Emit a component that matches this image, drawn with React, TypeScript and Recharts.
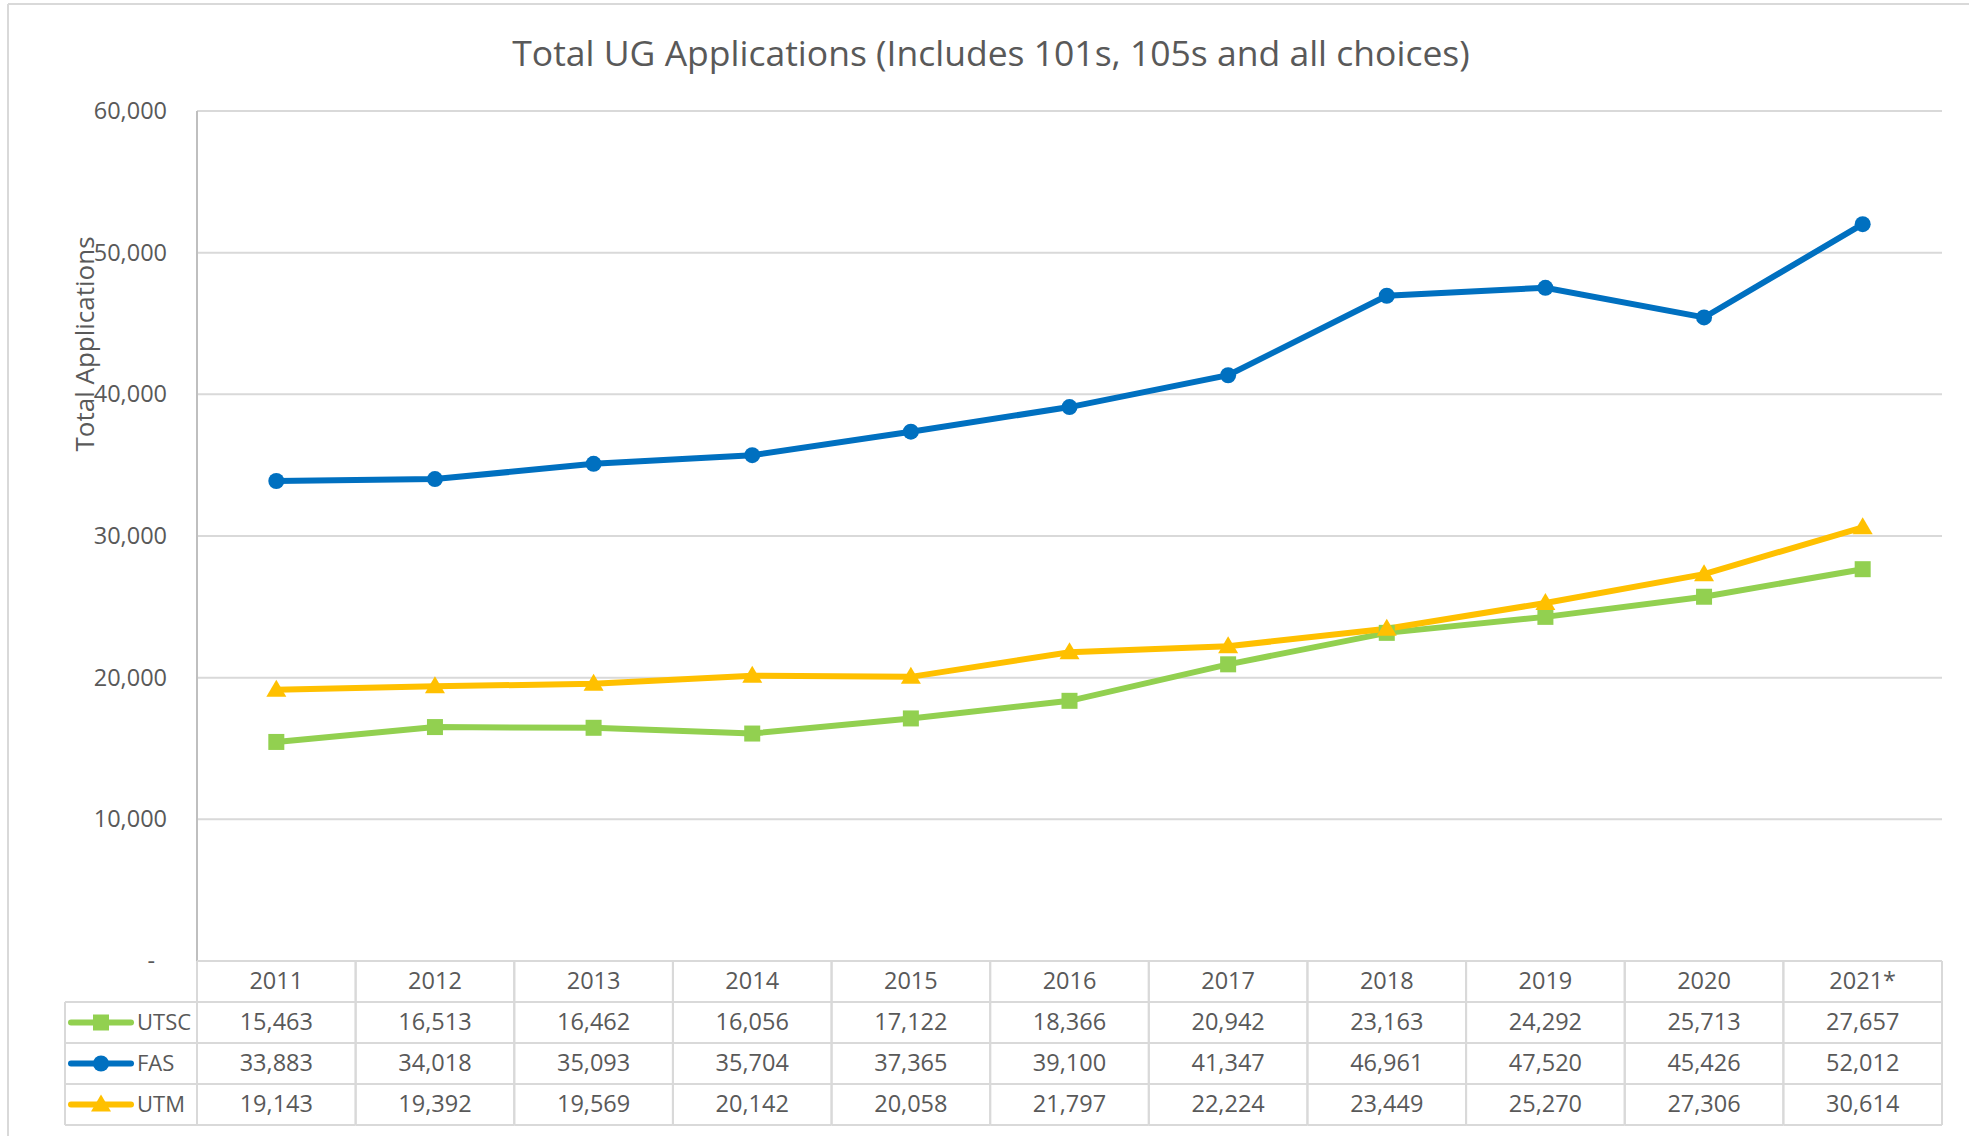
import React from 'react';
import { LineChart, Line, XAxis, YAxis, CartesianGrid, Customized } from 'recharts';

const years = ['2011', '2012', '2013', '2014', '2015', '2016', '2017', '2018', '2019', '2020', '2021*'];
const utsc = [15463, 16513, 16462, 16056, 17122, 18366, 20942, 23163, 24292, 25713, 27657];
const fas = [33883, 34018, 35093, 35704, 37365, 39100, 41347, 46961, 47520, 45426, 52012];
const utm = [19143, 19392, 19569, 20142, 20058, 21797, 22224, 23449, 25270, 27306, 30614];
const yTicks = [0, 10000, 20000, 30000, 40000, 50000, 60000];

const seriesNames = ['UTSC', 'FAS', 'UTM'];
const seriesValues = [utsc, fas, utm];
const seriesColors = ['#92D050', '#0070C0', '#FFC000'];
const seriesShapes = ['square', 'circle', 'triangle'];

const titleText = 'Total UG Applications (Includes 101s, 105s and all choices)';
const yAxisTitle = 'Total Applications';

const data = years.map((y, i) => ({ year: y, UTSC: utsc[i], FAS: fas[i], UTM: utm[i] }));

const W = 1969;
const H = 1136;
const M = { top: 111, right: 27, bottom: 10, left: 137 };
const Y_W = 60;
const X_H = 165;
const PLOT_W = W - M.left - Y_W - M.right;
const BAND = PLOT_W / years.length;
const ROW = 41;
const LEGEND_W = 132;
const FONT = '"Open Sans", "Noto Sans", sans-serif';
const TXT = '#595959';
const GRID = '#D9D9D9';
const FS = 23.5;

const fmt = (v: number) => v.toLocaleString('en-US');

const Marker = ({ shape, cx, cy, color }: { shape: string; cx: number; cy: number; color: string }) => {
  if (shape === 'square') return <rect x={cx - 8} y={cy - 8} width={16} height={16} fill={color} />;
  if (shape === 'circle') return <circle cx={cx} cy={cy} r={8} fill={color} />;
  return <polygon points={`${cx},${cy - 10} ${cx + 10},${cy + 7} ${cx - 10},${cy + 7}`} fill={color} />;
};

const makeDot = (s: number) => (props: any) => {
  const { cx, cy, index } = props;
  if (cx == null || cy == null) return <g key={`d${s}-${index}`} />;
  return (
    <g key={`d${s}-${index}`}>
      <Marker shape={seriesShapes[s]} cx={cx} cy={cy} color={seriesColors[s]} />
    </g>
  );
};

const TableTick = (props: any) => {
  const { x, y, payload } = props;
  const i: number = payload.index;
  const left = x - BAND / 2;
  const right = x + BAND / 2;
  const items: React.ReactNode[] = [];
  const bottom = y + ROW * 4;
  items.push(<line key="vl" x1={left} y1={y} x2={left} y2={bottom} stroke={GRID} strokeWidth={2} />);
  items.push(<line key="vr" x1={right} y1={y} x2={right} y2={bottom} stroke={GRID} strokeWidth={2} />);
  for (let r = 0; r <= 4; r++) {
    items.push(<line key={`h${r}`} x1={left} y1={y + ROW * r} x2={right} y2={y + ROW * r} stroke={GRID} strokeWidth={2} />);
  }
  items.push(
    <text key="yr" x={x} y={y + ROW / 2 - 2} textAnchor="middle" dominantBaseline="central" fill={TXT} fontFamily={FONT} fontSize={FS}>
      {payload.value}
    </text>
  );
  seriesValues.forEach((vals, s) => {
    items.push(
      <text key={`v${s}`} x={x} y={y + ROW * (s + 1) + ROW / 2 - 2} textAnchor="middle" dominantBaseline="central" fill={TXT} fontFamily={FONT} fontSize={FS}>
        {fmt(vals[i])}
      </text>
    );
  });
  if (i === 0) {
    const tl = left - LEGEND_W;
    items.push(<line key="lv" x1={tl} y1={y + ROW} x2={tl} y2={bottom} stroke={GRID} strokeWidth={2} />);
    for (let r = 1; r <= 4; r++) {
      items.push(<line key={`lh${r}`} x1={tl} y1={y + ROW * r} x2={left} y2={y + ROW * r} stroke={GRID} strokeWidth={2} />);
    }
    seriesNames.forEach((name, s) => {
      const cy = y + ROW * (s + 1) + ROW / 2;
      items.push(
        <g key={`lg${s}`}>
          <line x1={tl + 6} y1={cy} x2={tl + 66} y2={cy} stroke={seriesColors[s]} strokeWidth={6} strokeLinecap="round" />
          <Marker shape={seriesShapes[s]} cx={tl + 36} cy={cy} color={seriesColors[s]} />
          <text x={tl + 72} y={cy - 2} textAnchor="start" dominantBaseline="central" fill={TXT} fontFamily={FONT} fontSize={22}>
            {name}
          </text>
        </g>
      );
    });
  }
  return <g>{items}</g>;
};

const YTick = (props: any) => {
  const { x, y, payload } = props;
  const zero = payload.value === 0;
  return (
    <text x={zero ? x - 12 : x} y={y - 1} textAnchor="end" dominantBaseline="central" fill={TXT} fontFamily={FONT} fontSize={FS}>
      {zero ? '-' : fmt(payload.value)}
    </text>
  );
};

const Decorations = () => (
  <g>
    <line x1={8} y1={4} x2={W} y2={4} stroke={GRID} strokeWidth={2} />
    <line x1={8} y1={4} x2={8} y2={H} stroke={GRID} strokeWidth={2} />
    <text x={991} y={52} textAnchor="middle" dominantBaseline="central" fill={TXT} fontFamily={FONT} fontSize={35.5}>
      {titleText}
    </text>
    <text x={84} y={344} textAnchor="middle" dominantBaseline="central" fill={TXT} fontFamily={FONT} fontSize={26} transform="rotate(-90 84 344)">
      {yAxisTitle}
    </text>
  </g>
);

export default function App() {
  return (
    <div style={{ position: 'absolute', left: 0, top: 0, width: W, height: H, background: '#fff' }}>
      <LineChart width={W} height={H} data={data} margin={M}>
        <CartesianGrid horizontal vertical={false} stroke={GRID} strokeWidth={2} />
        <XAxis
          dataKey="year"
          scale="band"
          height={X_H}
          axisLine={false}
          tickLine={false}
          tickSize={0}
          tickMargin={0}
          interval={0}
          tick={<TableTick />}
        />
        <YAxis
          width={Y_W}
          domain={[0, 60000]}
          ticks={yTicks}
          axisLine={{ stroke: '#BFBFBF', strokeWidth: 2 }}
          tickLine={false}
          tickSize={0}
          tickMargin={30}
          tick={<YTick />}
        />
        {seriesNames.map((name, s) => (
          <Line
            key={name}
            dataKey={name}
            type="linear"
            stroke={seriesColors[s]}
            strokeWidth={6}
            dot={makeDot(s)}
            activeDot={false}
            isAnimationActive={false}
          />
        ))}
        <Customized component={<Decorations />} />
      </LineChart>
    </div>
  );
}
